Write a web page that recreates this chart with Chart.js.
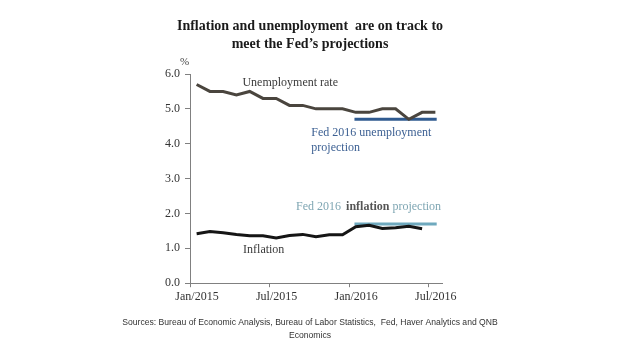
<!DOCTYPE html>
<html>
<head>
<meta charset="utf-8">
<script src="https://cdn.jsdelivr.net/npm/chart.js@4/dist/chart.umd.min.js"></script>
<style>
  html, body { margin: 0; padding: 0; background: #ffffff; }
  #wrap { width: 620px; height: 355px; }
</style>
</head>
<body>
<div id="wrap"><canvas id="c" width="620" height="355"></canvas></div>
<script>
// ---- data ----
const months = ['Jan/2015','Feb/2015','Mar/2015','Apr/2015','May/2015','Jun/2015','Jul/2015','Aug/2015','Sep/2015','Oct/2015','Nov/2015','Dec/2015',
                'Jan/2016','Feb/2016','Mar/2016','Apr/2016','May/2016','Jun/2016','Jul/2016'];
const unemployment = [5.7,5.5,5.5,5.4,5.5,5.3,5.3,5.1,5.1,5.0,5.0,5.0,4.9,4.9,5.0,5.0,4.7,4.9,4.9];
const inflation = [1.42,1.48,1.45,1.40,1.36,1.36,1.30,1.37,1.40,1.33,1.39,1.39,1.62,1.66,1.57,1.59,1.63,1.56];
const tickLabels = ['Jan/2015','Jul/2015','Jan/2016','Jul/2016'];
const yTicks = [0,1,2,3,4,5,6];
const projPeriod = ['Jan/2016','Jul/2016'];
const unempProjection = 4.7;
const inflProjection = 1.7;

const toPts = arr => arr.map((v, i) => ({ x: i + 0.5, y: v }));
const pStart = months.indexOf(projPeriod[0]) + 0.4;
const pEnd = months.indexOf(projPeriod[1]) + 0.6;

const serif = "'Liberation Serif', 'Times New Roman', serif";

const labelPlugin = {
  id: 'labels',
  afterDraw(chart) {
    const { ctx, scales: { x, y } } = chart;
    ctx.save();
    ctx.textBaseline = 'middle';
    ctx.textAlign = 'left';
    // % unit
    ctx.font = "11px " + serif;
    ctx.fillStyle = '#444';
    ctx.fillText('%', x.getPixelForValue(0) - 10, y.getPixelForValue(6) - 12);

    ctx.font = "12px " + serif;
    ctx.fillStyle = '#3a3a3a';
    ctx.fillText('Unemployment rate', x.getPixelForValue(3.95), y.getPixelForValue(5.74));
    ctx.fillText('Inflation', x.getPixelForValue(4.0), y.getPixelForValue(0.95));

    ctx.fillStyle = '#3b5f92';
    ctx.fillText('Fed 2016 unemployment', x.getPixelForValue(9.15), y.getPixelForValue(4.31));
    ctx.fillText('projection', x.getPixelForValue(9.15), y.getPixelForValue(3.88));

    // inflation projection label (mixed styles)
    let px = x.getPixelForValue(8.0);
    const py = y.getPixelForValue(2.18);
    ctx.fillStyle = '#7fa6b3';
    ctx.font = "12px " + serif;
    ctx.fillText('Fed 2016', px, py);
    px += ctx.measureText('Fed 2016 ').width + 2;
    ctx.fillStyle = '#555';
    ctx.font = "bold 12px " + serif;
    ctx.fillText('inflation', px, py);
    px += ctx.measureText('inflation').width + 3;
    ctx.fillStyle = '#7fa6b3';
    ctx.font = "12px " + serif;
    ctx.fillText('projection', px, py);
    ctx.restore();
  }
};

new Chart(document.getElementById('c'), {
  type: 'line',
  data: {
    datasets: [
      { label: 'Unemployment rate', data: toPts(unemployment), borderColor: '#4a453e', borderWidth: 3, pointRadius: 0, tension: 0, yAxisID: 'y' },
      { label: 'Inflation', data: toPts(inflation), borderColor: '#151515', borderWidth: 3, pointRadius: 0, tension: 0, yAxisID: 'y' },
      { label: 'Fed 2016 unemployment projection', data: [{x: pStart, y: unempProjection}, {x: pEnd, y: unempProjection}], borderColor: '#2f5a8f', borderWidth: 3, pointRadius: 0, yAxisID: 'y' },
      { label: 'Fed 2016 inflation projection', data: [{x: pStart, y: inflProjection}, {x: pEnd, y: inflProjection}], borderColor: '#6fa9be', borderWidth: 3, pointRadius: 0, yAxisID: 'y' }
    ]
  },
  options: {
    responsive: false,
    animation: false,
    layout: { padding: 0 },
    plugins: {
      legend: { display: false },
      tooltip: { enabled: false },
      title: {
        display: true,
        text: ['Inflation and unemployment  are on track to', 'meet the Fed\u2019s projections'],
        font: { family: serif, size: 14, weight: 'bold', lineHeight: 1.3 },
        color: '#1a1a1a',
        padding: { top: 17, bottom: 20.6 }
      },
      subtitle: {
        display: true,
        position: 'bottom',
        text: ['Sources: Bureau of Economic Analysis, Bureau of Labor Statistics,  Fed, Haver Analytics and QNB', 'Economics'],
        font: { family: "'Liberation Sans', Arial, sans-serif", size: 8.6, lineHeight: 1.5 },
        color: '#333',
        padding: { top: 11, bottom: 13 }
      }
    },
    scales: {
      x: {
        type: 'linear',
        min: 0,
        max: months.length,
        afterBuildTicks: s => { s.ticks = tickLabels.map(l => ({ value: months.indexOf(l) })); },
        afterFit: s => { s.height = 22; },
        ticks: {
          callback: v => months[v],
          font: { family: serif, size: 12 },
          color: '#333',
          padding: 2,
          labelOffset: 7,
          maxRotation: 0,
          autoSkip: false
        },
        grid: { drawOnChartArea: false, tickLength: 4, color: '#808080' },
        border: { color: '#808080', width: 1 }
      },
      y: {
        position: 'left',
        min: 0,
        max: 6,
        afterBuildTicks: s => { s.ticks = yTicks.map(v => ({ value: v })); },
        afterFit: s => { s.width = 190; },
        ticks: {
          callback: v => v.toFixed(1),
          font: { family: serif, size: 12 },
          color: '#333',
          padding: 5
        },
        grid: { drawOnChartArea: false, tickLength: 5, color: '#808080' },
        border: { color: '#808080', width: 1 }
      },
      yr: {
        position: 'right',
        display: true,
        ticks: { display: false },
        grid: { display: false },
        border: { display: false },
        afterFit: s => { s.width = 178; }
      }
    }
  },
  plugins: [labelPlugin]
});
</script>
</body>
</html>
